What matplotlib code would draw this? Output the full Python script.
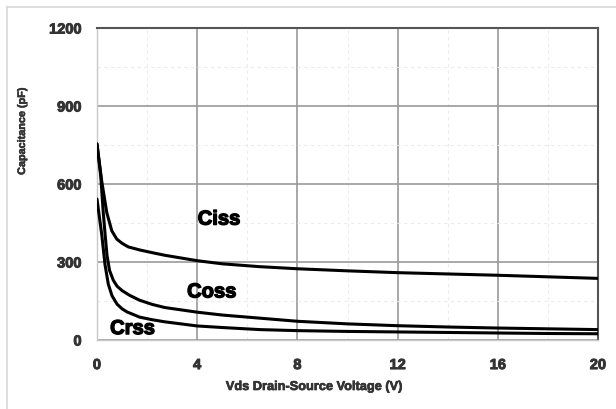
import matplotlib
matplotlib.use("Agg")
import matplotlib.pyplot as plt
from matplotlib.lines import Line2D
import matplotlib.patheffects as pe

plt.rcParams['font.family'] = ['Liberation Sans', 'DejaVu Sans']

# Data
v_ciss = [0, 0.19, 0.39, 0.59, 0.79, 1.0, 1.25, 1.72, 2.25, 2.7, 4, 5, 6.5, 8, 10, 12, 14, 16, 18, 20]
ciss = [754, 610, 490, 420, 388, 372, 358, 346, 335, 326, 305, 293, 282, 274, 266, 259, 254, 249, 243, 237]
v_coss = [0, 0.15, 0.25, 0.32, 0.4, 0.5, 0.65, 0.8, 1.0, 1.3, 1.7, 2.2, 2.7, 4, 5, 6.5, 8, 10, 12, 14, 16, 18, 20]
coss = [754, 630, 490, 410, 325, 268, 230, 207, 190, 172, 153, 137, 125, 107, 96, 84, 72, 62, 55, 50, 46, 43, 40]
v_crss = [0, 0.1, 0.19, 0.32, 0.45, 0.6, 0.8, 1.0, 1.2, 1.7, 2.2, 2.7, 4, 5, 6.5, 8, 10, 12, 14, 16, 18, 20]
crss = [542, 470, 405, 290, 215, 170, 138, 120, 108, 88, 78, 70, 54, 48, 40, 36, 33, 31, 29, 27, 25, 24]

x_ticks = [0, 4, 8, 12, 16, 20]
y_ticks = [0, 300, 600, 900, 1200]
x_label = "Vds Drain-Source Voltage (V)"
y_label = "Capacitance (pF)"
curve_names = ["Ciss", "Coss", "Crss"]

fig = plt.figure(figsize=(6.16, 4.10), dpi=100)
ax = fig.add_axes([97/616, 1-341/410, (598-97)/616, (341-29)/410])

for xs, ys in [(v_ciss, ciss), (v_coss, coss), (v_crss, crss)]:
    ax.plot(xs, ys, color='black', lw=2.2, solid_capstyle='round',
            solid_joinstyle='round', zorder=3)

ax.set_xlim(0, 20)
ax.set_ylim(0, 1200)
ax.set_xticks(x_ticks)
ax.set_yticks(y_ticks)
ax.set_xticks([2, 6, 10, 14, 18], minor=True)
ax.set_yticks([150, 450, 750, 1050], minor=True)
ax.grid(which='major', color='#999999', lw=1.2, zorder=1)
ax.grid(which='minor', color='#ececec', lw=0.8, ls=(0, (3, 3)), zorder=0)
ax.tick_params(which='both', length=0)
ax.tick_params(axis='x', pad=13)
ax.tick_params(axis='y', pad=11)
heavy = [pe.withStroke(linewidth=0.7, foreground='#333333')]
for lab in ax.get_xticklabels() + ax.get_yticklabels():
    lab.set_fontweight('bold')
    lab.set_fontsize(10.5)
    lab.set_color('#333333')
    lab.set_path_effects(heavy)

for s in ['top', 'right']:
    ax.spines[s].set_color('#555555')
    ax.spines[s].set_linewidth(1.5)
for s in ['left', 'bottom']:
    ax.spines[s].set_color('#c8c8c8')
    ax.spines[s].set_linewidth(1.0)

xl = ax.set_xlabel(x_label, fontsize=9.2, fontweight='bold', color='#333333',
                   path_effects=[pe.withStroke(linewidth=0.5, foreground='#333333')])
ax.xaxis.set_label_coords((314-97)/501, -(388-341)/312)
xl.set_va('center')
yl = ax.set_ylabel(y_label, fontsize=7.8, fontweight='bold', color='#333333',
                   path_effects=[pe.withStroke(linewidth=0.4, foreground='#333333')])
ax.yaxis.set_label_coords(-(97-22)/501, (341-132)/312)
yl.set_va('center')

lab_heavy = [pe.withStroke(linewidth=1.0, foreground='black')]
ax.text(4.87, 465, curve_names[0], fontsize=14.5, fontweight='bold', ha='center', va='center', path_effects=lab_heavy)
ax.text(4.58, 185, curve_names[1], fontsize=14.5, fontweight='bold', ha='center', va='center', path_effects=lab_heavy)
ax.text(1.42, 44, curve_names[2], fontsize=14.5, fontweight='bold', ha='center', va='center', path_effects=lab_heavy)

# light frame lines of the figure
fig.add_artist(Line2D([7/616, 7/616], [0, 1-8/410], transform=fig.transFigure, color='#d8d8d8', lw=1.2))
fig.add_artist(Line2D([7/616, 1], [1-8/410, 1-8/410], transform=fig.transFigure, color='#d8d8d8', lw=1.2))

fig.savefig("out.png", dpi=100)
